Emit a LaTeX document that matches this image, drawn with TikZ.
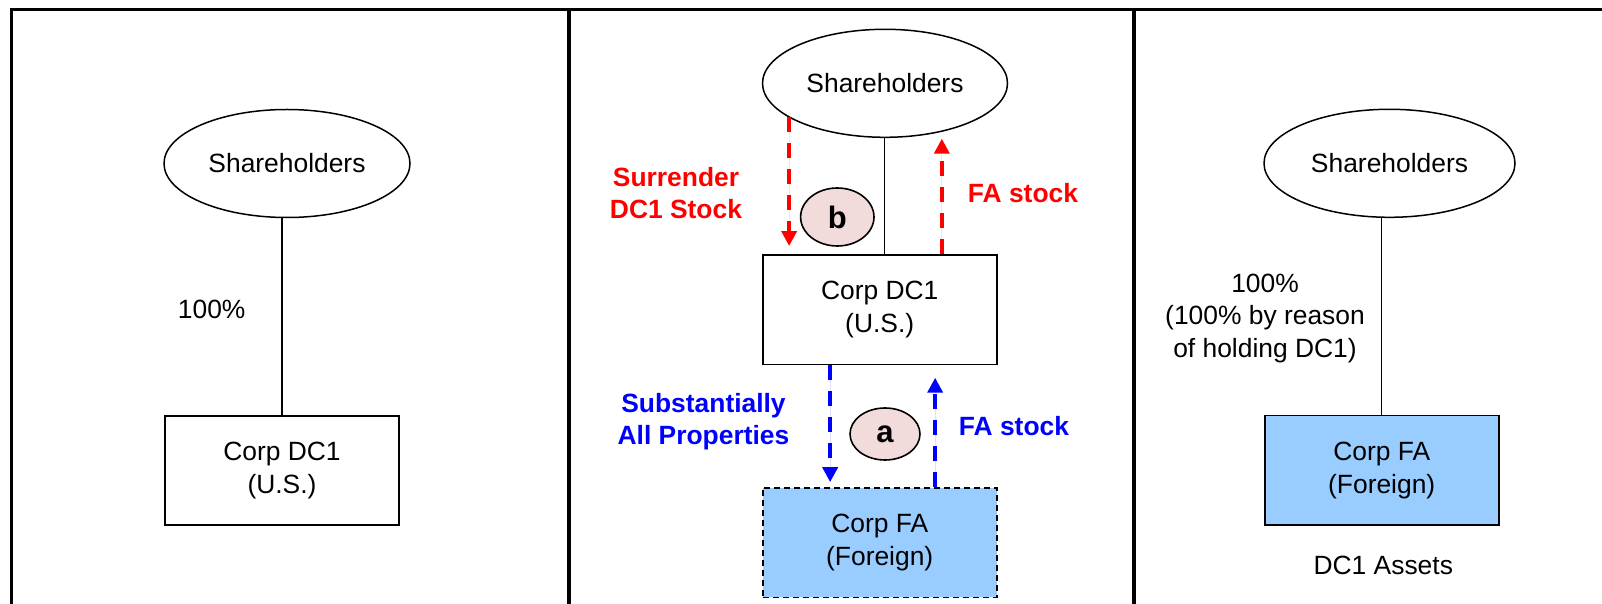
\documentclass[tikz,border=0pt]{standalone}
\usepackage{fontspec}
\setmainfont{Liberation Sans}
\usetikzlibrary{shapes.geometric,arrows.meta}
\definecolor{fablue}{HTML}{99CCFF}
\definecolor{tagpink}{HTML}{F2DCDB}
\begin{document}
\begin{tikzpicture}[x=0.5pt,y=-0.5pt,
  every node/.style={font=\fontsize{13.2}{16.5}\selectfont, inner sep=0pt},
  holder/.style={ellipse, draw, line width=0.75pt, minimum height=54pt},
  corp/.style={rectangle, draw, line width=0.85pt, minimum width=117pt, minimum height=54.8pt, align=center},
  corpfa/.style={corp, fill=fablue},
  own/.style={line width=0.75pt},
  tagmark/.style={ellipse, draw, fill=tagpink, line width=0.8pt, font=\fontsize{15.5}{18}\selectfont\bfseries},
  redlbl/.style={text=red, font=\fontsize{13.2}{16.3}\selectfont\bfseries, align=center},
  bluelbl/.style={text=blue, font=\fontsize{13.2}{15.7}\selectfont\bfseries, align=center},
  flow/.style={line width=1.9pt, dash pattern=on 7.5pt off 5.5pt, -{Triangle[width=7.5pt,length=7.5pt]}},
  redflow/.style={flow, draw=red, fill=red},
  blueflow/.style={flow, draw=blue, fill=blue},
  frameline/.style={line width=1.75pt}]
\useasboundingbox (0,0) rectangle (1602,604);

% frame
\coordinate (tl) at (11.5,9.5);
\coordinate (tr) at (1602,9.5);
\coordinate (bl) at (11.5,604);
\coordinate (d1t) at (569,9.5);
\coordinate (d1b) at (569,604);
\coordinate (d2t) at (1134,9.5);
\coordinate (d2b) at (1134,604);
\draw[frameline] (bl) -- (tl) -- (tr);
\draw[frameline] (d1t) -- (d1b);
\draw[frameline] (d2t) -- (d2b);

% left panel
\node[holder, minimum width=123pt] (sh1) at (287,163.5) {Shareholders};
\node[corp] (box1) at (282,470.5) {Corp DC1\\(U.S.)};
\draw[own] (box1.north) -- (box1.north |- sh1.south);
\node (pct1) at (211.7,309) {100\%};

% middle panel
\node[holder, minimum width=122.5pt] (sh2) at (885,83.3) {Shareholders};
\node[corp] (box2) at (879.7,309.7) {Corp DC1\\(U.S.)};
\node[corp, fill=fablue, dashed, dash pattern=on 3pt off 2pt] (box3) at (879.7,542.6) {Corp FA\\(Foreign)};
\draw[own] ([xshift=2.3pt]box2.north) -- ([xshift=2.3pt]box2.north |- sh2.south);

\draw[redflow, shorten >=4pt] ([xshift=13.65pt]box2.north west |- sh2.199.75) -- ([xshift=13.65pt]box2.north west);
\draw[redflow, shorten >=3.5pt] ([xshift=-27.85pt]box2.north east) -- ([xshift=-27.85pt]box2.north east |- sh2.-40.6);
\node[tagmark, minimum width=36.7pt, minimum height=29pt] (tagb) at (837.3,217) {b};
\node[redlbl] (surr) at (676,193) {Surrender\\DC1 Stock};
\node[redlbl] (fastk1) at (1023,193.3) {FA stock};

\draw[blueflow, shorten >=2.4pt] ([xshift=34.15pt]box2.south west) -- ([xshift=34.15pt]box2.south west |- box3.north);
\draw[blueflow, shorten >=6.2pt] ([xshift=-31.2pt]box3.north east) -- ([xshift=-31.2pt]box3.north east |- box2.south);
\node[tagmark, minimum width=35pt, minimum height=26pt] (taga) at (885,434) {a};
\node[bluelbl] (subst) at (703.5,421.7) {Substantially\\All Properties};
\node[bluelbl] (fastk2) at (1014,426) {FA stock};

% right panel
\node[holder, minimum width=125.5pt] (sh3) at (1389.5,163.3) {Shareholders};
\node[corpfa] (box4) at (1381.7,470.2) {Corp FA\\(Foreign)};
\draw[own] (box4.north) -- (box4.north |- sh3.south);
\node[align=center, font=\fontsize{13.2}{16.2}\selectfont] (pct3) at (1265,318.3) {100\%\\(100\% by reason\\of holding DC1)};
\node (assets) at (1383.3,565) {DC1 Assets};
\end{tikzpicture}
\end{document}
